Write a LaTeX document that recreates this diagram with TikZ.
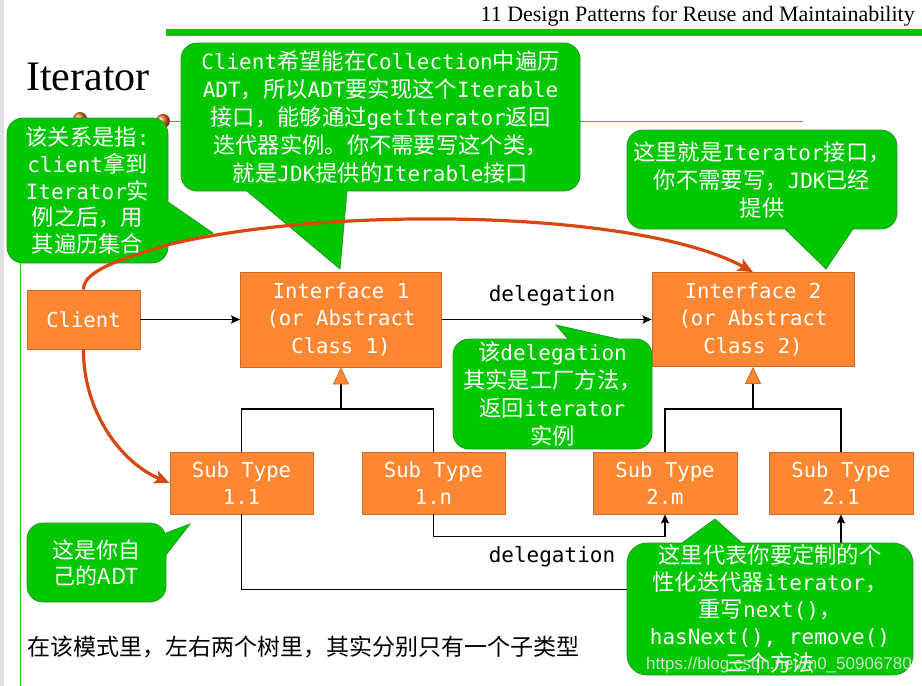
\documentclass[tikz,border=0pt]{standalone}
\usepackage{fontspec}
\setmainfont{Liberation Serif}
\newfontfamily\cjk{Noto Sans CJK SC}
\newfontfamily\monof{DejaVu Sans Mono}[Scale=0.942]
\newfontfamily\monoplain{DejaVu Sans Mono}
\newfontfamily\wmfont{Liberation Sans}
\newcommand\m[1]{{\monof #1}}
\usetikzlibrary{arrows.meta,shadings}
\definecolor{cgreen}{RGB}{0,200,0}
\definecolor{cborder}{RGB}{40,150,40}
\definecolor{boxorange}{RGB}{255,135,50}
\definecolor{boxborder}{RGB}{205,105,45}
\definecolor{redarrow}{RGB}{215,72,15}
\definecolor{linegreen}{RGB}{40,190,40}
\definecolor{dotorange}{RGB}{235,115,30}
\tikzset{
 obox/.style={draw=boxborder, line width=0.8pt, fill=boxorange, text=white, font=\fontsize{20.6}{27.5}\selectfont\monoplain, align=center, inner sep=0pt},
 callout/.style={draw=cborder, line width=0.8pt, fill=cgreen, rounded corners=16pt, text=white, font=\fontsize{22.3}{28}\selectfont\cjk, align=center, inner sep=0pt},
 ptr/.style={fill=cgreen},
 ptrline/.style={draw=cborder, line width=0.8pt, line join=miter},
 conn/.style={line width=1.8pt, black},
 arr/.style={conn, -{Stealth[length=9pt,width=8pt,inset=1.5pt]}},
 inh/.style={conn, -{Triangle[length=17pt,width=16pt,color=boxborder,fill=boxorange,line width=0.8pt]}},
 redarr/.style={draw=redarrow, line width=3.2pt, -{Stealth[length=15pt,width=13pt,inset=3pt]}},
 lbl/.style={font=\fontsize{21}{25}\selectfont\monoplain, text=black, inner sep=0pt},
}
\begin{document}
\begin{tikzpicture}[x=1pt,y=-1pt]
\fill[white] (0,0) rectangle (922,686);
\useasboundingbox (0,0) rectangle (922,686);
% slide decorations
\fill[black!12] (0,0) rectangle (4,686);
\fill[cgreen] (166,29) rectangle (922,36);
\draw[linegreen, line width=0.8pt] (80,121) -- (803,121);
\draw[linegreen, line width=0.8pt] (20,121) -- (20,686);
\shade[ball color=dotorange] (80,119) circle (7);
\shade[ball color=dotorange] (163,121) circle (7);
\node[anchor=base east, font=\fontsize{22}{26}\selectfont, inner sep=0pt] (hdr) at (915,21) {11 Design Patterns for Reuse and Maintainability};
\node[anchor=base west, font=\fontsize{42}{48}\selectfont, inner sep=0pt] (title) at (26,90) {Iterator};

% boxes
\node[obox, minimum width=113pt, minimum height=59pt] (client) at (83.5,319.5) {Client};
\node[obox, minimum width=201pt, minimum height=95pt] (i1) at (341,319.5) {Interface 1\\(or Abstract\\Class 1)};
\node[obox, minimum width=202pt, minimum height=94pt] (i2) at (753,319.5) {Interface 2\\(or Abstract\\Class 2)};
\node[obox, minimum width=143pt, minimum height=62pt] (s11) at (241.5,483) {Sub Type\\1.1};
\node[obox, minimum width=143pt, minimum height=62pt] (s1n) at (433.5,483) {Sub Type\\1.n};
\node[obox, minimum width=144pt, minimum height=62pt] (s2m) at (665,483) {Sub Type\\2.m};
\node[obox, minimum width=144pt, minimum height=62pt] (s21) at (841,483) {Sub Type\\2.1};

% connectors
\draw[arr] (client.east) -- (i1.west);
\draw[arr] (i1.east) -- (i2.west);
\node[lbl] (d1) at (552,296) {delegation};
\coordinate (j1) at (341,409);
\coordinate (j2) at (753,409);
\draw[conn, line join=miter] (s11.north) |- (j1) -| (s1n.north);
\draw[inh] (j1) -- (i1.south);
\draw[conn, line join=miter] (s2m.north) |- (j2) -| (s21.north);
\draw[inh] (j2) -- (i2.south);
\draw[arr, line join=miter] (s1n.south) -- ++(0,22) -| (s2m.south);
\draw[arr, line join=miter] (s11.south) -- ++(0,75) -| (s21.south);
\node[lbl] (d2) at (552,557) {delegation};

% bottom text
\node[anchor=west, font=\fontsize{23}{28}\selectfont\cjk, inner sep=0pt] (bottom) at (27,647) {在该模式里，左右两个树里，其实分别只有一个子类型};

% callouts
\node[callout, minimum width=399pt, minimum height=148pt] (c1) at (380.5,117) {\m{Client}希望能在\m{Collection}中遍历\\\m{ADT}，所以\m{ADT}要实现这个\m{Iterable}\\接口，能够通过\m{getIterator}返回\\迭代器实例。你不需要写这个类，\\就是\m{JDK}提供的\m{Iterable}接口};
\fill[ptr] (247,189) -- (247,191) -- (340,269) -- (347,191) -- (347,189) -- cycle;
\draw[ptrline] (247,191) -- (340,269) -- (347,191);

\node[callout, minimum width=161pt, minimum height=145pt, font=\fontsize{22.3}{26.7}\selectfont\cjk] (c2) at (87.5,190.5) {该关系是指\m{:}\\\m{client}拿到\\\m{Iterator}实\\例之后，用\\其遍历集合};
\fill[ptr] (166,202) -- (168,202) -- (213,233) -- (168,243) -- (166,243) -- cycle;
\draw[ptrline] (168,202) -- (213,233) -- (168,243);

\node[callout, minimum width=270pt, minimum height=99pt] (c3) at (762,179.5) {这里就是\m{Iterator}接口，\\你不需要写，\m{JDK}已经\\提供};
\fill[ptr] (785,227) -- (785,229) -- (826,269) -- (853,229) -- (853,227) -- cycle;
\draw[ptrline] (785,229) -- (826,269) -- (853,229);

\node[callout, minimum width=199pt, minimum height=110pt] (c4) at (552.5,394) {该\m{delegation}\\其实是工厂方法，\\返回\m{iterator}\\实例};
\fill[ptr] (568,341) -- (568,339) -- (556,325) -- (618,339) -- (618,341) -- cycle;
\draw[ptrline] (568,339) -- (556,325) -- (618,339);

\node[callout, minimum width=139pt, minimum height=79pt, font=\fontsize{22}{26}\selectfont\cjk] (c5) at (96.5,562.5) {这是你自\\己的ADT};
\fill[ptr] (164,533) -- (166,533) -- (190,524) -- (166,555) -- (164,555) -- cycle;
\draw[ptrline] (166,533) -- (190,524) -- (166,555);

\node[callout, minimum width=286pt, minimum height=132pt, rounded corners=20pt, font=\fontsize{22.3}{27}\selectfont\cjk] (c6) at (770,609) {这里代表你要定制的个\\性化迭代器\m{iterator}，\\重写\m{next()}，\\\m{hasNext(), remove()}\\三个方法};
\fill[ptr] (682,545) -- (682,543) -- (715,519) -- (742,543) -- (742,545) -- cycle;
\draw[ptrline] (682,543) -- (715,519) -- (742,543);

% watermark
\node[anchor=east, font=\fontsize{17}{20}\selectfont\wmfont, text=black!10, opacity=0.9, inner sep=0pt] (wm) at (912,665) {https://blog.csdn.net/m0\_50906780};

% red curved arrows
\draw[redarr] (client.north) .. controls (83,270) and (125,258) .. (167,245) .. controls (330,205) and (640,210) .. (i2.north);
\draw[redarr] (client.south) .. controls (83,410) and (120,462) .. (s11.west);
\end{tikzpicture}
\end{document}
